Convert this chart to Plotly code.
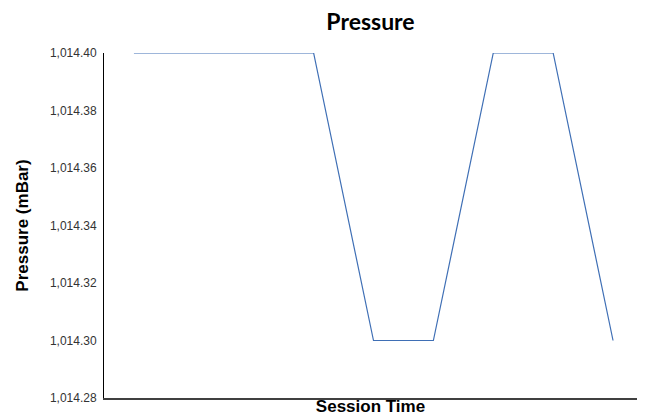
import plotly.graph_objects as go

session_index = [0, 1, 2, 3, 4, 5, 6, 7, 8]
pressure = [1014.40, 1014.40, 1014.40, 1014.40, 1014.30, 1014.30, 1014.40, 1014.40, 1014.30]
y_ticks = [1014.28, 1014.30, 1014.32, 1014.34, 1014.36, 1014.38, 1014.40]

fig = go.Figure()
fig.add_trace(go.Scatter(x=session_index, y=pressure, mode="lines",
                         line=dict(color="#3F6FB5", width=1.2), cliponaxis=False,
                         showlegend=False))

fig.update_layout(
    width=647, height=420,
    margin=dict(l=104, r=10, t=53, b=22),
    paper_bgcolor="white", plot_bgcolor="white",
    title=dict(text="<b>Pressure</b>", x=(104 + 637) / 2 / 647, xanchor="center",
               y=1 - 22 / 420, yanchor="middle",
               font=dict(family="Lato, Noto Sans, sans-serif", size=23, color="black")),
    xaxis=dict(range=[-0.5, 8.4], showticklabels=False, ticks="", showgrid=False,
               zeroline=False, showline=True, linecolor="#404040", linewidth=2,
               title=dict(text="<b>Session Time</b>", standoff=1,
                          font=dict(family="Liberation Sans, Arial", size=17, color="black"))),
    yaxis=dict(range=[1014.28, 1014.40], tickvals=y_ticks, tickformat=",.2f",
               showgrid=False, zeroline=False, showline=True, linecolor="black",
               linewidth=1, ticks="", ticklabelstandoff=4,
               tickfont=dict(family="Liberation Sans, Arial", size=12, color="#333333"),
               title=dict(text="<b>Pressure (mBar)</b>", standoff=16,
                          font=dict(family="Liberation Sans, Arial", size=17, color="black"))),
)

fig.write_html("out.html", config={"displayModeBar": False},
               post_script="document.body.style.margin='0';")
